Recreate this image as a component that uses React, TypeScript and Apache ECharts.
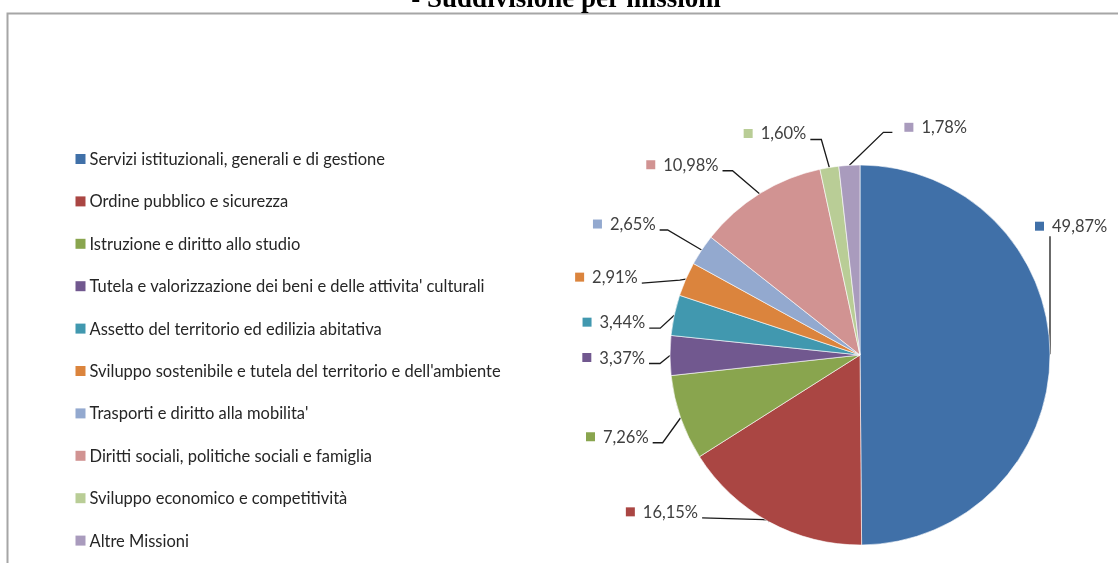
import React, { useEffect, useRef } from "react";
import * as echarts from "echarts";

const titleText = "- Suddivisione per missioni";

const categories = [
  "Servizi istituzionali, generali e di gestione",
  "Ordine pubblico e sicurezza",
  "Istruzione e diritto allo studio",
  "Tutela e valorizzazione dei beni e delle attivita' culturali",
  "Assetto del territorio ed edilizia abitativa",
  "Sviluppo sostenibile e tutela del territorio e dell'ambiente",
  "Trasporti e diritto alla mobilita'",
  "Diritti sociali, politiche sociali e famiglia",
  "Sviluppo economico e competitività",
  "Altre Missioni",
];

const values = [49.87, 16.15, 7.26, 3.37, 3.44, 2.91, 2.65, 10.98, 1.6, 1.78];

const valueLabels = [
  "49,87%",
  "16,15%",
  "7,26%",
  "3,37%",
  "3,44%",
  "2,91%",
  "2,65%",
  "10,98%",
  "1,60%",
  "1,78%",
];

const colors = [
  "#4070A8",
  "#AA4643",
  "#89A54E",
  "#71588F",
  "#4198AF",
  "#DB843D",
  "#93A9CF",
  "#D19392",
  "#B9CD96",
  "#A99BBD",
];

// Leader line layout (offsets from each slice's outer mid-point): elbow, end
const elbowOffsets = [
  [0, -118],
  [-1, -2],
  [-18, 25],
  [-10, 8],
  [-14, 13],
  [-6, 1],
  [-34, -20],
  [-27, -23],
  [-8, -28],
  [34, -33],
];
const endOffsets = [
  [0, -118],
  [-67, -4],
  [-28, 25],
  [-21, 8],
  [-25, 13],
  [-44, 4],
  [-42, -20],
  [-37, -23],
  [-19, -28],
  [43, -33],
];

export default function App() {
  const ref = useRef<HTMLDivElement>(null);

  useEffect(() => {
    if (!ref.current) return;
    const chart = echarts.init(ref.current, undefined, { renderer: "svg" });

    const rich: any = {
      v: {
        fontFamily: "Lato",
        fontSize: 16.5,
        color: "#404040",
        padding: [0, 0, 0, 8],
        verticalAlign: "middle",
      },
    };
    colors.forEach((c, i) => {
      rich["s" + i] = {
        width: 9,
        height: 9,
        backgroundColor: c,
        verticalAlign: "middle",
      };
    });

    const option: any = {
      animation: false,
      color: colors,
      graphic: [
        {
          type: "rect",
          shape: { x: 7.5, y: 13.5, width: 1300, height: 700 },
          style: { fill: "none", stroke: "#A6A6A6", lineWidth: 2 },
          silent: true,
        },
        {
          type: "text",
          x: 566,
          y: 11,
          style: {
            text: titleText,
            font: 'bold 27px "Liberation Serif"',
            fill: "#000",
            textAlign: "center",
            textVerticalAlign: "bottom",
          },
          silent: true,
        },
      ],
      legend: {
        orient: "vertical",
        left: 75.5,
        top: 150.5,
        padding: 0,
        icon: "rect",
        itemWidth: 10,
        itemHeight: 10,
        itemGap: 25.4,
        selectedMode: false,
        data: categories,
        itemStyle: { borderWidth: 0 },
        textStyle: {
          fontFamily: "Lato",
          fontSize: 16.5,
          lineHeight: 17,
          color: "#262626",
          padding: [0, 0, 0, -1],
        },
      },
      series: [
        {
          type: "pie",
          center: [860, 355],
          radius: 190,
          startAngle: 90,
          clockwise: true,
          avoidLabelOverlap: false,
          itemStyle: { borderColor: "#ffffff", borderWidth: 0.6 },
          label: {
            show: true,
            position: "outside",
            formatter: (p: any) =>
              "{s" + p.dataIndex + "|}{v|" + valueLabels[p.dataIndex] + "}",
            rich,
          },
          labelLine: {
            show: true,
            length: 10,
            length2: 10,
            lineStyle: { color: "#1a1a1a", width: 1.3 },
          },
          labelLayout: (p: any) => {
            const pts = p.labelLinePoints;
            if (!pts) return {};
            const i = p.dataIndex;
            const p0 = pts[0];
            const e1 = [p0[0] + elbowOffsets[i][0], p0[1] + elbowOffsets[i][1]];
            const e2 = [p0[0] + endOffsets[i][0], p0[1] + endOffsets[i][1]];
            const line = [[p0[0], p0[1]], e1, e2];
            if (i === 0) {
              return {
                x: e2[0] - 15,
                y: e2[1] - 10,
                align: "left",
                verticalAlign: "middle",
                labelLinePoints: line,
              };
            }
            if (i === 9) {
              return {
                x: e2[0] + 12,
                y: e2[1] - 5,
                align: "left",
                verticalAlign: "middle",
                labelLinePoints: line,
              };
            }
            return {
              x: e2[0] - 4,
              y: e2[1] - 6,
              align: "right",
              verticalAlign: "middle",
              labelLinePoints: line,
            };
          },
          data: categories.map((name, i) => ({ name, value: values[i] })),
        },
      ],
    };

    chart.setOption(option);
    return () => chart.dispose();
  }, []);

  return (
    <div
      ref={ref}
      style={{ position: "fixed", left: 0, top: 0, width: 1118, height: 563 }}
    />
  );
}
